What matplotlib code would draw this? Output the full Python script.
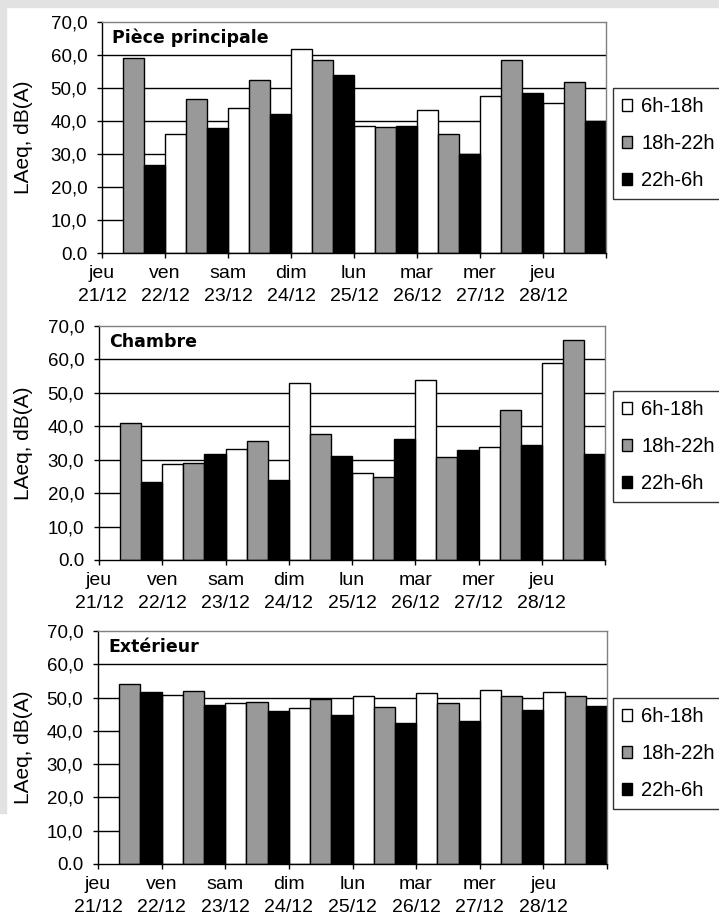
import numpy as np
import matplotlib
matplotlib.use("Agg")
import matplotlib.pyplot as plt
from matplotlib.patches import Patch, Rectangle

plt.rcParams['font.family'] = ['Liberation Sans', 'DejaVu Sans']

# ---- data ----
days = ["jeu", "ven", "sam", "dim", "lun", "mar", "mer", "jeu"]
dates = ["21/12", "22/12", "23/12", "24/12", "25/12", "26/12", "27/12", "28/12"]
periods = ["6h-18h", "18h-22h", "22h-6h"]
titles = ["Pièce principale", "Chambre", "Extérieur"]

piece_jour = [np.nan, 36.0, 43.8, 61.8, 38.6, 43.3, 47.7, 45.5]
piece_soir = [59.0, 46.7, 52.3, 58.5, 38.2, 36.0, 58.4, 51.8]
piece_nuit = [26.7, 37.8, 42.2, 53.9, 38.4, 29.9, 48.5, 40.0]

chambre_jour = [np.nan, 28.7, 33.2, 52.8, 25.9, 53.8, 33.9, 58.8]
chambre_soir = [41.0, 28.9, 35.5, 37.6, 24.9, 30.9, 45.0, 65.9]
chambre_nuit = [23.4, 31.7, 23.9, 31.1, 36.2, 32.8, 34.5, 31.7]

ext_jour = [np.nan, 50.7, 48.5, 46.9, 50.4, 51.3, 52.3, 51.8]
ext_soir = [54.2, 52.0, 48.6, 49.7, 47.3, 48.5, 50.5, 50.5]
ext_nuit = [51.6, 47.7, 46.0, 44.8, 42.4, 43.0, 46.3, 47.5]

panels = [
    (piece_jour, piece_soir, piece_nuit),
    (chambre_jour, chambre_soir, chambre_nuit),
    (ext_jour, ext_soir, ext_nuit),
]

colors = ["white", "#999999", "black"]
yticks = np.arange(0, 71, 10)
ytick_labels = ["0.0"] + [f"{v},0" for v in yticks[1:]]

W, H = 719, 923
fig = plt.figure(figsize=(W / 100, H / 100), dpi=100)

# light gray frame of the original screenshot
fig.patches.append(Rectangle((0, 1 - 7 / H), 1, 7 / H, transform=fig.transFigure,
                             color="#e2e2e2", zorder=0))
fig.patches.append(Rectangle((0, 1 - 813 / H), 6 / W, 813 / H, transform=fig.transFigure,
                             color="#e2e2e2", zorder=0))

# axes boxes in pixels: left, top, right, bottom
boxes = [(102, 22, 606, 253), (99, 326, 605, 560), (98, 631, 607, 864)]
legend_tops = [88, 391, 698]

x = np.arange(len(days))
for i, (vals, box, ltop) in enumerate(zip(panels, boxes, legend_tops)):
    l, t, r, b = box
    ax = fig.add_axes([l / W, 1 - b / H, (r - l) / W, (b - t) / H])

    for y in range(10, 70, 10):
        ax.axhline(y, color="black", lw=1.0, zorder=0.5)

    for s, (serie, c) in enumerate(zip(vals, colors)):
        ax.bar(x + (s + 0.5) / 3, serie, width=1 / 3, color=c,
               edgecolor="black", linewidth=1.0, zorder=2)

    ax.set_xlim(0, 8)
    ax.set_ylim(0, 70)
    ax.set_xticks(np.arange(0, 9))
    ax.set_xticklabels([f"{d}\n{dt}" for d, dt in zip(days, dates)] + [""],
                       fontsize=14, linespacing=1.5)
    ax.set_yticks(yticks)
    ax.set_yticklabels(ytick_labels, fontsize=13.5)
    ax.tick_params(axis="x", length=3.5, width=1, pad=5)
    ax.tick_params(axis="y", length=3.6, width=1, pad=7)

    ax.spines["left"].set_color("black")
    ax.spines["bottom"].set_color("black")
    ax.spines["top"].set_color("#808080")
    ax.spines["right"].set_color("#808080")
    for sp in ax.spines.values():
        sp.set_linewidth(1.0)

    ax.set_ylabel("LAeq, dB(A)", fontsize=15)
    ax.yaxis.set_label_coords(-(l - 33) / (r - l), 0.5)

    ax.text(10 / (r - l), 0.93, titles[i], transform=ax.transAxes,
            fontsize=12.5, fontweight="bold", family="DejaVu Sans",
            va="center", ha="left")

    handles = [Patch(facecolor=c, edgecolor="black", linewidth=1.0) for c in colors]
    leg = ax.legend(handles, periods, loc="upper left",
                    bbox_to_anchor=((613 - l) / (r - l), (b - ltop) / (b - t)),
                    borderaxespad=0, fontsize=14.5, frameon=True, fancybox=False,
                    handlelength=0.5, handleheight=0.5, handletextpad=0.45,
                    labelspacing=0.9, borderpad=0.45)
    leg.get_frame().set_edgecolor("black")
    leg.get_frame().set_linewidth(1.0)

fig.savefig("out.png", dpi=100)
